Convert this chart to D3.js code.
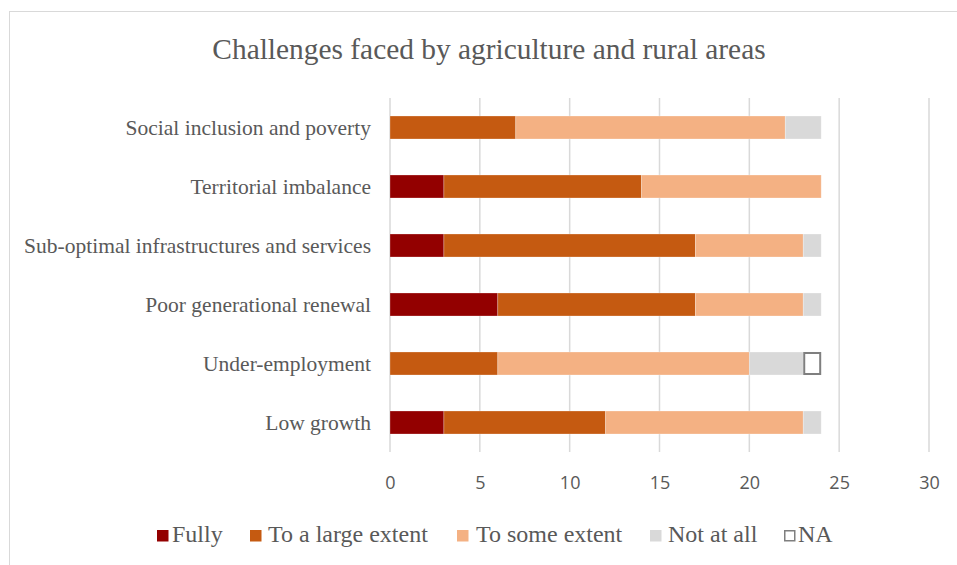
<!DOCTYPE html>
<html>
<head>
<meta charset="utf-8">
<script src="https://cdn.jsdelivr.net/npm/d3@7"></script>
<style>
  html, body { margin: 0; padding: 0; background: #fff; }
  svg { display: block; }
</style>
</head>
<body>
<div id="chart"></div>
<script>
// Categories, top to bottom
const categories = [
  "Social inclusion and poverty",
  "Territorial imbalance",
  "Sub-optimal infrastructures and services",
  "Poor generational renewal",
  "Under-employment",
  "Low growth"
];
// Series values (number of answers)
const fully      = [0, 3, 3, 6, 0, 3];
const largeExt   = [7, 11, 14, 11, 6, 9];
const someExt    = [15, 10, 6, 6, 14, 11];
const notAtAll   = [2, 0, 1, 1, 3, 1];
const na         = [0, 0, 0, 0, 1, 0];

const seriesNames = ["Fully", "To a large extent", "To some extent", "Not at all", "NA"];
const seriesValues = [fully, largeExt, someExt, notAtAll, na];
const xTicks = [0, 5, 10, 15, 20, 25, 30];

const W = 957, H = 565;
const fills   = ["#930000", "#C55A11", "#F4B183", "#D9D9D9", "#FFFFFF"];
const strokes = [null, null, null, null, "#7F7F7F"];
const serif = "'Liberation Serif', 'Times New Roman', serif";

const svg = d3.select("#chart").append("svg")
  .attr("width", W).attr("height", H);

// Chart frame
svg.append("rect")
  .attr("x", 9.5).attr("y", 11.5)
  .attr("width", W + 10).attr("height", H + 10)
  .attr("fill", "#fff").attr("stroke", "#D9D9D9").attr("stroke-width", 1);

// Title
svg.append("text")
  .attr("x", 489).attr("y", 59)
  .attr("text-anchor", "middle")
  .attr("font-family", serif)
  .attr("font-size", 29.4)
  .attr("fill", "#595959")
  .text("Challenges faced by agriculture and rural areas");

const x = d3.scaleLinear().domain([0, 30]).range([390, 929]);
const y = d3.scaleBand().domain(categories).range([98, 452]).paddingInner(0.61).paddingOuter(0.305);

// Vertical gridlines
svg.append("g").selectAll("line").data(xTicks).join("line")
  .attr("x1", d => x(d)).attr("x2", d => x(d))
  .attr("y1", 98).attr("y2", 452)
  .attr("stroke", "#D9D9D9").attr("stroke-width", 1.5);

// Stack the series
const rows = categories.map((c, i) => {
  const r = { cat: c };
  seriesNames.forEach((s, j) => r[s] = seriesValues[j][i]);
  return r;
});
const stacked = d3.stack().keys(seriesNames)(rows);

stacked.forEach((layer, j) => {
  const inset = strokes[j] ? 1 : 0;
  svg.append("g").selectAll("rect")
    .data(layer.filter(d => d[1] - d[0] > 0))
    .join("rect")
    .attr("x", d => x(d[0]) + inset)
    .attr("y", d => y(d.data.cat) + inset)
    .attr("width", d => x(d[1]) - x(d[0]) - 2 * inset)
    .attr("height", y.bandwidth() - 2 * inset)
    .attr("fill", fills[j])
    .attr("stroke", strokes[j] || "#fff")
    .attr("stroke-opacity", strokes[j] ? 1 : 0.35)
    .attr("stroke-width", strokes[j] ? 2 : 0.75);
});

// Category axis labels
svg.append("g").selectAll("text").data(categories).join("text")
  .attr("x", 371)
  .attr("y", d => y(d) + y.bandwidth() / 2)
  .attr("dy", "0.35em")
  .attr("text-anchor", "end")
  .attr("font-family", serif)
  .attr("font-size", 21.5)
  .attr("fill", "#595959")
  .text(d => d);

// Value axis tick labels
const xAxis = d3.axisBottom(x).tickValues(xTicks).tickSize(0).tickPadding(0);
const gx = svg.append("g").attr("transform", "translate(0,476)").call(xAxis);
gx.select(".domain").remove();
gx.selectAll("text")
  .attr("font-family", "'Open Sans', 'Liberation Sans', sans-serif")
  .attr("font-size", 18)
  .attr("fill", "#595959");

// Legend
const legendBoxX  = [157, 250, 457, 650, 784];
const legendTextX = [172, 268, 476, 668, 798];
const lg = svg.append("g");
seriesNames.forEach((s, j) => {
  const inset = strokes[j] ? 0.75 : 0;
  lg.append("rect")
    .attr("x", legendBoxX[j] + inset).attr("y", 530 + inset)
    .attr("width", 11.5 - 2 * inset).attr("height", 11.5 - 2 * inset)
    .attr("fill", fills[j])
    .attr("stroke", strokes[j] || "none")
    .attr("stroke-width", 1.5);
  lg.append("text")
    .attr("x", legendTextX[j]).attr("y", 542)
    .attr("font-family", serif)
    .attr("font-size", 24)
    .attr("fill", "#595959")
    .text(s);
});
</script>
</body>
</html>
